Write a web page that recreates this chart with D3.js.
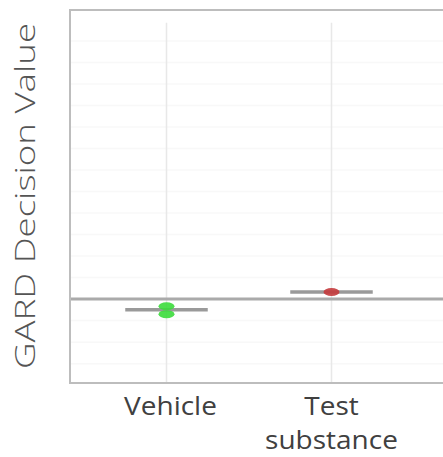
<!DOCTYPE html>
<html>
<head>
<meta charset="utf-8">
<script src="https://d3js.org/d3.v7.min.js"></script>
<style>
  body { margin: 0; background: #fff; }
  svg { display: block; }
</style>
</head>
<body>
<svg id="chart"></svg>
<script>
// Data
const categories = ["Vehicle", "Test substance"];
const categoryLines = [["Vehicle"], ["Test", "substance"]];
const groupMeans = [-0.5, 0.33];
const pointValues = [[-0.33, -0.7], [0.33]];
const pointColors = ["#3cdc3c", "#c43a3c"];
const gridTicks = d3.range(-3, 13, 1);

const width = 443, height = 457;
const plot = { left: 70, top: 10, right: 446, bottom: 383 };

const svg = d3.select("#chart").attr("width", width).attr("height", height);

const x = d3.scaleBand().domain(categories).range([84, 414]);
const y = d3.scaleLinear().domain([-3.9, 13.44]).range([plot.bottom, plot.top]);

// faint horizontal grid
svg.append("g").selectAll("line").data(gridTicks).join("line")
  .attr("x1", plot.left).attr("x2", width)
  .attr("y1", d => y(d)).attr("y2", d => y(d))
  .attr("stroke", "#f8f8f8").attr("stroke-width", 1.5);

// vertical grid at categories
svg.append("g").selectAll("line").data(categories).join("line")
  .attr("x1", d => x(d) + x.bandwidth() / 2).attr("x2", d => x(d) + x.bandwidth() / 2)
  .attr("y1", y(12.85)).attr("y2", plot.bottom)
  .attr("stroke", "#e8e8e8").attr("stroke-width", 1.5);

// zero line
svg.append("line")
  .attr("x1", plot.left).attr("x2", width)
  .attr("y1", y(0)).attr("y2", y(0))
  .attr("stroke", "#aaaaaa").attr("stroke-width", 3);

// frame (left, top, bottom)
svg.append("path")
  .attr("d", `M${width},${plot.top}H${plot.left}V${plot.bottom}H${width}`)
  .attr("fill", "none").attr("stroke", "#bdbdbd").attr("stroke-width", 2);

// mean bars
svg.append("g").selectAll("line").data(categories).join("line")
  .attr("x1", d => x(d) + x.bandwidth() * 0.25)
  .attr("x2", d => x(d) + x.bandwidth() * 0.75)
  .attr("y1", (d, i) => y(groupMeans[i])).attr("y2", (d, i) => y(groupMeans[i]))
  .attr("stroke", "#9a9a9a").attr("stroke-width", 3.5);

// points
categories.forEach((c, i) => {
  svg.append("g").selectAll("ellipse").data(pointValues[i]).join("ellipse")
    .attr("cx", x(c) + x.bandwidth() / 2)
    .attr("cy", d => y(d))
    .attr("rx", 8).attr("ry", 4)
    .attr("fill", pointColors[i]).attr("opacity", 0.9);
});

// x labels (slightly widened like the source)
categories.forEach((c, i) => {
  const t = svg.append("text")
    .attr("transform", `translate(${x(c) + x.bandwidth() / 2 + (i === 0 ? 4 : 0)},415) scale(1.12,1)`)
    .attr("text-anchor", "middle")
    .attr("font-family", "Open Sans, sans-serif").attr("font-size", 25)
    .attr("fill", "#404040");
  categoryLines[i].forEach((line, j) => {
    t.append("tspan").attr("x", 0).attr("dy", j ? 34 : 0).text(line);
  });
});

// y label (stretched along its length like the source)
svg.append("text")
  .attr("transform", `translate(35,${(22 + 370) / 2}) rotate(-90) scale(1.31,1)`)
  .attr("text-anchor", "middle")
  .attr("font-family", "Open Sans, sans-serif").attr("font-size", 28)
  .attr("font-weight", 300)
  .attr("fill", "#555555")
  .text("GARD Decision Value");
</script>
</body>
</html>
